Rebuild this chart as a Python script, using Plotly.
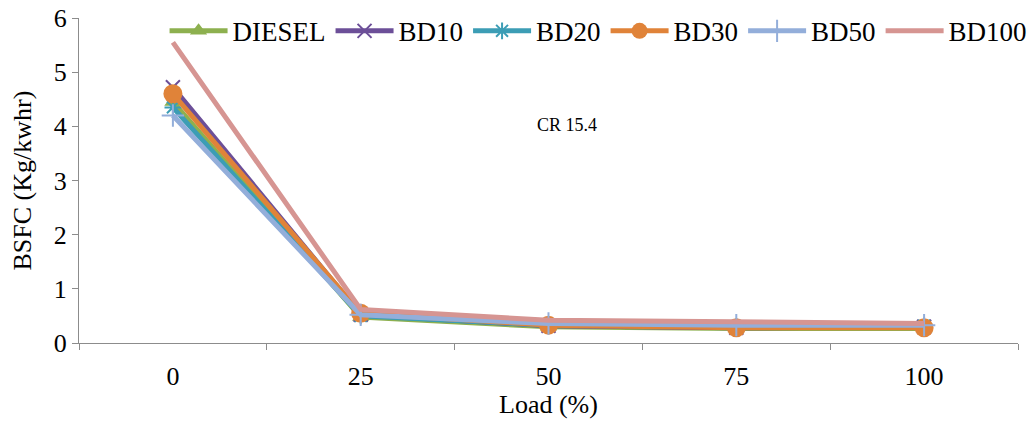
import plotly.graph_objects as go

loads = ["0", "25", "50", "75", "100"]
diesel = [4.45, 0.48, 0.30, 0.27, 0.27]
bd10 = [4.72, 0.52, 0.32, 0.28, 0.30]
bd20 = [4.35, 0.50, 0.33, 0.30, 0.32]
bd30 = [4.60, 0.55, 0.33, 0.28, 0.28]
bd50 = [4.20, 0.52, 0.36, 0.33, 0.33]
bd100 = [5.55, 0.62, 0.42, 0.38, 0.36]

series = [
    ("DIESEL", diesel, "#8DB04F", dict(symbol="triangle-up", size=15)),
    ("BD10", bd10, "#6C4F98", dict(symbol="x-thin-open", size=14, line=dict(width=2, color="#6C4F98"))),
    ("BD20", bd20, "#3C9DB5", dict(symbol="asterisk-open", size=14, line=dict(width=2, color="#3C9DB5"))),
    ("BD30", bd30, "#E08339", dict(symbol="circle", size=19)),
    ("BD50", bd50, "#93AEDA", dict(symbol="cross-thin-open", size=16, line=dict(width=2, color="#93AEDA"))),
    ("BD100", bd100, "#D69592", None),
]

fig = go.Figure()
for name, vals, color, marker in series:
    if marker is None:
        fig.add_trace(go.Scatter(x=loads, y=vals, name=name, mode="lines",
                                 line=dict(color=color, width=5)))
    else:
        m = dict(marker)
        m["color"] = color
        fig.add_trace(go.Scatter(x=loads, y=vals, name=name, mode="lines+markers",
                                 line=dict(color=color, width=5), marker=m))

font = "Liberation Serif"
fig.update_layout(
    width=1035, height=423,
    margin=dict(l=79, r=17, t=18, b=80, autoexpand=False),
    paper_bgcolor="white", plot_bgcolor="white",
    font=dict(family=font, size=26, color="black"),
    showlegend=True,
    legend=dict(orientation="h", xref="container", yref="container",
                x=0.159, y=0.926, xanchor="left", yanchor="middle",
                font=dict(family=font, size=27), bgcolor="rgba(0,0,0,0)",
                itemwidth=58, tracegroupgap=0),
    xaxis=dict(type="category", range=[-0.5, 4.5], showgrid=False, showline=True,
               linecolor="#8C8C8C", linewidth=1, ticks="outside", tickson="boundaries",
               ticklen=6, tickcolor="#8C8C8C", ticklabelstandoff=10,
               tickfont=dict(family=font, size=26)),
    yaxis=dict(range=[0, 6], dtick=1, showgrid=False, showline=True, zeroline=False,
               linecolor="#8C8C8C", linewidth=1, ticks="outside", ticklen=6,
               tickcolor="#8C8C8C",
               tickfont=dict(family=font, size=26)),
    annotations=[
        dict(text="CR 15.4", x=2.1, y=4.02, xref="x", yref="y", showarrow=False,
             font=dict(family=font, size=18, color="black")),
        dict(text="BSFC (Kg/kwhr)", x=-0.0607, y=0.5, xref="paper", yref="paper",
             textangle=-90, showarrow=False, xanchor="center", yanchor="middle",
             font=dict(family=font, size=26, color="black")),
        dict(text="Load (%)", x=0.5, y=-0.19, xref="paper", yref="paper",
             showarrow=False, xanchor="center", yanchor="middle",
             font=dict(family=font, size=26, color="black")),
    ],
)

fig.write_html("out.html")
